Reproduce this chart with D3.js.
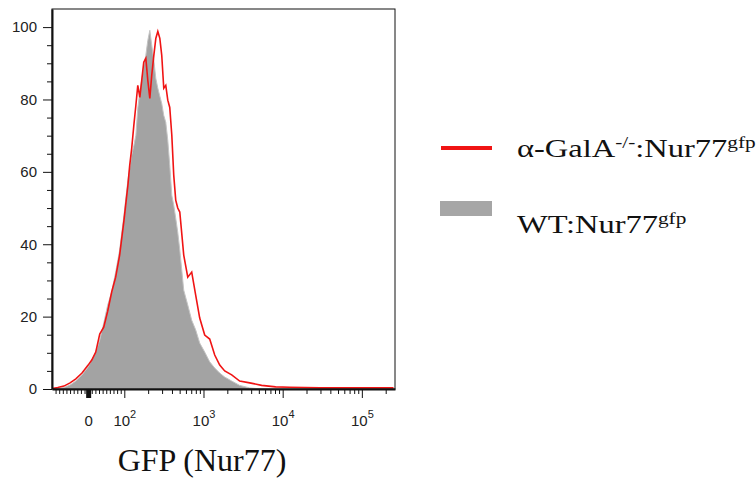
<!DOCTYPE html>
<html>
<head>
<meta charset="utf-8">
<script src="https://cdnjs.cloudflare.com/ajax/libs/d3/7.8.5/d3.min.js"></script>
<style>
  body { margin: 0; background: #fff; }
  svg { display: block; }
  .axis text { font-family: "Liberation Sans", Arial, sans-serif; font-size: 15px; fill: #222; }
  .axis path, .axis line { stroke: #111; }
  .serif { font-family: "Liberation Serif", "Times New Roman", serif; fill: #111; }
</style>
</head>
<body>
<div id="chart"></div>
<script>
/** data: GFP intensity (biexponential x) and % of max (y) **/
var gfpValues = [-100, -84, -67, -50, -34, -17, 0, 10, 21, 32, 43, 54, 65, 76, 87, 99,
    104, 111, 117, 124, 132, 140, 148, 157, 166, 176, 187, 198, 210, 222, 236, 250,
    265, 281, 297, 315, 334, 354, 375, 398, 421, 446, 473, 502, 563, 633, 710, 798,
    896, 1036, 1198, 1386, 1603, 1853, 2271, 2865, 3831, 5428, 8152, 12245, 29260,
    93480, 251100];

// α-GalA-/-:Nur77gfp
var koPercent = [0.1, 0.4, 0.8, 1.7, 2.8, 4.4, 6.6, 8.0, 10.2, 15.2, 17.1, 21.5, 26.8, 30.9, 37.0, 46.6,
    50.8, 56.3, 61.8, 66.5, 72.9, 78.4, 83.9, 80.6, 85.3, 90.3, 91.4, 85.3, 80.3, 86.7, 92.2, 96.9,
    98.8, 96.9, 92.2, 83.1, 83.9, 79.8, 77.8, 70.1, 59.1, 52.2, 50.0, 48.9, 37.0, 30.9, 32.3, 25.9,
    19.6, 14.9, 13.8, 9.4, 6.6, 5.0, 3.9, 2.2, 1.7, 1.0, 0.6, 0.5, 0.3,
    0.3, 0.3];

// WT:Nur77gfp
var wtPercent = [0, 0.1, 0.4, 1.1, 2.2, 3.9, 6.1, 8.0, 10.2, 13.5, 18.2, 23.2, 26.8, 32.3, 38.4, 48.0,
    52.2, 57.7, 61.0, 64.6, 67.3, 70.1, 77.6, 82.0, 85.3, 89.2, 92.2, 96.3, 99.1, 95.0, 90.8, 85.8,
    83.1, 80.9, 78.9, 75.6, 73.7, 68.7, 61.8, 53.5, 50.8, 47.2, 43.3, 38.4, 27.3, 23.2, 19.0, 16.3,
    12.7, 10.2, 7.5, 5.8, 4.4, 3.3, 2.2, 1.0, 0.3, 0, 0, 0, 0,
    0, 0];

var yTicks = [0, 20, 40, 60, 80, 100];
var yMinorTicks = [5, 10, 15, 25, 30, 35, 45, 50, 55, 65, 70, 75, 85, 90, 95];
var xMajorTicks = [0, 100, 1000, 10000, 100000];
var xMajorLabels = [["0", ""], ["10", "2"], ["10", "3"], ["10", "4"], ["10", "5"]];
var xMinorTicks = [-90, -80, -70, -60, -50, -40, -30, -20, -10,
    10, 20, 30, 40, 50, 60, 70, 80, 90,
    200, 300, 400, 500, 600, 700, 800, 900,
    2000, 3000, 4000, 5000, 6000, 7000, 8000, 9000,
    20000, 30000, 40000, 50000, 60000, 70000, 80000, 90000,
    200000];
var xTitle = "GFP (Nur77)";
var legendLabels = [
    [["α-GalA", 0], ["-/-", 1], [":Nur77", 0], ["gfp", 1]],
    [["WT:Nur77", 0], ["gfp", 1]]
];

/** layout **/
var width = 756,
    height = 479,
    plotLeft = 52,
    plotRight = 395,
    plotTop = 9,
    plotBottom = 389;

var svg = d3.select("#chart").append("svg")
    .attr("width", width)
    .attr("height", height);

/** biexponential-ish transform: linear near zero, log above **/
var LIN = 95;
function logicle(v) {
    var a = Math.abs(v);
    var t = a <= LIN ? a : LIN + LIN * Math.log(a / LIN);
    return v < 0 ? -t : t;
}

var xLin = d3.scaleLinear()
    .domain([logicle(-100), logicle(262144)])
    .range([plotLeft, plotRight]);
function x(v) { return xLin(logicle(v)); }

var y = d3.scaleLinear()
    .domain([0, 105])
    .range([plotBottom, plotTop]);

svg.append("clipPath").attr("id", "clip")
    .append("rect")
    .attr("x", plotLeft).attr("y", plotTop)
    .attr("width", plotRight - plotLeft).attr("height", plotBottom - plotTop);

/** histograms **/
var wtArea = d3.area()
    .x(function(d, i) { return x(gfpValues[i]); })
    .y0(y(0))
    .y1(function(d) { return y(d); });

svg.append("path")
    .datum(wtPercent)
    .attr("clip-path", "url(#clip)")
    .attr("d", wtArea)
    .style("fill", "#a3a3a3")
    .style("stroke", "#c4c4c4")
    .style("stroke-width", 1);

var koLine = d3.line()
    .x(function(d, i) { return x(gfpValues[i]); })
    .y(function(d) { return y(d); });

svg.append("path")
    .datum(koPercent)
    .attr("clip-path", "url(#clip)")
    .attr("d", koLine)
    .style("fill", "none")
    .style("stroke", "#f01414")
    .style("stroke-width", 1.6);

/** frame **/
svg.append("rect")
    .attr("x", plotLeft).attr("y", plotTop)
    .attr("width", plotRight - plotLeft).attr("height", plotBottom - plotTop)
    .style("fill", "none")
    .style("stroke", "#111")
    .style("stroke-width", 1);

/** y axis **/
svg.append("g")
    .attr("class", "axis")
    .attr("transform", "translate(" + plotLeft + ",0)")
    .call(d3.axisLeft(y).tickValues(yMinorTicks).tickSize(5).tickFormat(""))
    .call(function(g) { g.select(".domain").remove(); });

svg.append("g")
    .attr("class", "axis")
    .attr("transform", "translate(" + plotLeft + ",0)")
    .call(d3.axisLeft(y).tickValues(yTicks).tickSize(9).tickPadding(6).tickSizeOuter(0))
    .call(function(g) { g.select(".domain").style("stroke-width", 2); });

/** x axis **/
svg.append("g")
    .attr("class", "axis")
    .attr("transform", "translate(0," + plotBottom + ")")
    .call(d3.axisBottom(xLin).tickValues(xMinorTicks.map(logicle)).tickSize(5).tickFormat(""))
    .call(function(g) { g.select(".domain").remove(); });

var xAxis = svg.append("g")
    .attr("class", "axis")
    .attr("transform", "translate(0," + plotBottom + ")")
    .call(d3.axisBottom(xLin).tickValues(xMajorTicks.map(logicle)).tickSize(9).tickSizeOuter(0).tickFormat(""));
xAxis.select(".domain").style("stroke-width", 2);
// the zero tick is drawn as a thick block
xAxis.selectAll(".tick line")
    .style("stroke-width", function(d, i) { return xMajorTicks[i] === 0 ? 5 : 1; });

var xLabels = xAxis.selectAll(".tick")
    .append("text")
    .attr("y", 37)
    .attr("text-anchor", "middle")
    .attr("fill", "#222");
xLabels.append("tspan")
    .text(function(d, i) { return xMajorLabels[i][0]; });
xLabels.append("tspan")
    .attr("dy", -8)
    .style("font-size", "11px")
    .text(function(d, i) { return xMajorLabels[i][1]; });

svg.append("text")
    .attr("class", "serif")
    .attr("x", 202)
    .attr("y", 471)
    .attr("text-anchor", "middle")
    .style("font-size", "32px")
    .text(xTitle);

/** legend **/
svg.append("line")
    .attr("x1", 441).attr("x2", 492)
    .attr("y1", 148).attr("y2", 148)
    .style("stroke", "#f01414")
    .style("stroke-width", 4);

svg.append("rect")
    .attr("x", 440).attr("y", 201)
    .attr("width", 52).attr("height", 15)
    .style("fill", "#a6a6a6");

// legend text in the reference is set wide, so stretch it horizontally
var legendBaselines = [157, 233];
legendLabels.forEach(function(parts, k) {
    var t = svg.append("text")
        .attr("class", "serif")
        .attr("transform", "translate(517," + legendBaselines[k] + ") scale(1.25,1)")
        .style("font-size", "26px");
    var raised = false;
    parts.forEach(function(p) {
        var sp = t.append("tspan").text(p[0]);
        if (p[1] && !raised) { sp.attr("dy", -9).style("font-size", "17px"); raised = true; }
        else if (p[1]) { sp.style("font-size", "17px"); }
        else if (raised) { sp.attr("dy", 9); raised = false; }
    });
});
</script>
</body>
</html>
